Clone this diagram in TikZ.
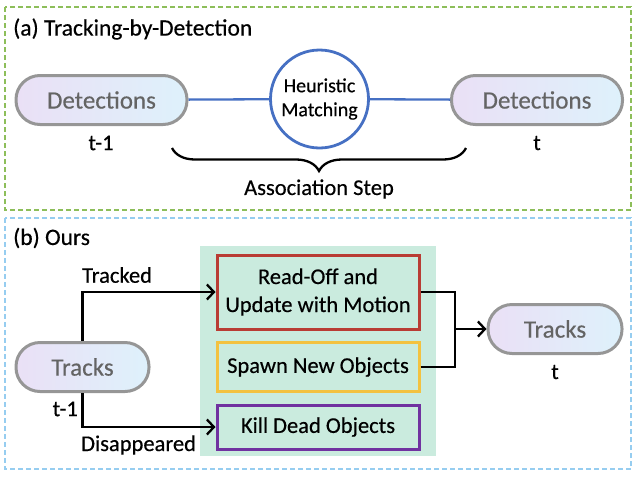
\documentclass[tikz,border=0pt]{standalone}
\usepackage{fontspec}
\setmainfont{Carlito}[FakeBold=0.4]
\usepackage{tikz}
\usetikzlibrary{arrows.meta, decorations.pathreplacing}

\definecolor{frameA}{RGB}{141,190,90}
\definecolor{frameB}{RGB}{150,205,240}
\definecolor{pillL}{RGB}{234,224,246}
\definecolor{pillR}{RGB}{222,241,251}
\definecolor{pillD}{RGB}{150,150,150}
\definecolor{pillT}{RGB}{100,100,100}
\definecolor{matchB}{RGB}{70,112,195}
\definecolor{stageBg}{RGB}{202,235,222}
\definecolor{readR}{RGB}{185,60,52}
\definecolor{spawnY}{RGB}{243,194,64}
\definecolor{killP}{RGB}{112,50,160}

\tikzset{
  pill/.style={draw=pillD, line width=3pt, rounded corners=24pt, left color=pillL, right color=pillR,
    text=pillT, font=\fontsize{25}{28}\selectfont, minimum height=49pt},
  stagebox/.style={draw, line width=3pt, minimum width=202pt, align=center,
    font=\fontsize{22.5}{28}\selectfont},
  lbl/.style={font=\fontsize{22.5}{26}\selectfont, inner sep=0pt},
  ttl/.style={font=\fontsize{23.5}{26}\selectfont, inner sep=0pt},
  conn/.style={line width=2.3pt},
  arr/.style={line width=2.3pt, -{Straight Barb[length=7pt,width=15pt,line width=2.3pt]}}
}

\begin{document}
\begin{tikzpicture}[x=1pt,y=1pt,yscale=-1,xscale=1]
\useasboundingbox (0,0) rectangle (644,480);

%Frame: Tracking-by-Detection
\draw [color=frameA, line width=2.2pt, dash pattern={on 5pt off 3pt}] (5,7) rectangle (631,210);
\node [ttl, anchor=west] (titleA) at (13,29) {(a) Tracking-by-Detection};

%Detections and matching
\node [pill, minimum width=171pt] (detPrev) at (101.5,100) {Detections};
\node [pill, minimum width=171pt] (detCur) at (537,100) {Detections};
\node [circle, draw=matchB, line width=2.8pt, minimum size=98pt, align=center, inner sep=0pt,
  font=\fontsize{20}{24}\selectfont] (match) at (319.5,99) {Heuristic\\Matching};
\draw [color=matchB, line width=2.3pt] (detPrev) -- (match);
\draw [color=matchB, line width=2.3pt] (match) -- (detCur);
\node [lbl] (tPrevA) at (101,143) {t-1};
\node [lbl] (tCurA) at (537,143) {t};

%Brace: Association Step
\draw [line width=2.3pt, decorate, decoration={brace, mirror, amplitude=23pt}] (172,148) -- (466,148);
\node [lbl] (assoc) at (319,189) {Association Step};

%Frame: Ours
\draw [color=frameB, line width=2.2pt, dash pattern={on 5pt off 3pt}] (5,218) rectangle (631,469);
\node [ttl, anchor=west] (titleB) at (13,238) {(b) Ours};

%Stage background
\fill [stageBg] (200,246) rectangle (436,456);

%Stage boxes
\node [stagebox, draw=readR, minimum height=74pt] (readOff) at (318,292) {Read-Off and\\Update with Motion};
\node [stagebox, draw=spawnY, minimum height=49pt] (spawn) at (318,367) {Spawn New Objects};
\node [stagebox, draw=killP, minimum height=44pt] (kill) at (318,427) {Kill Dead Objects};

%Tracks
\node [pill, minimum width=133pt] (tracksPrev) at (82.5,367) {Tracks};
\node [pill, minimum width=134pt] (tracksCur) at (555,329) {Tracks};
\node [lbl, anchor=east] (tPrevB) at (78,409) {t-1};
\node [lbl] (tCurB) at (555,372) {t};

%Connectors
\draw [arr] (tracksPrev.north) |- (readOff.west);
\draw [arr] (tracksPrev.south) |- (kill.west);
\node [lbl, anchor=west] (tracked) at (82,275) {Tracked};
\node [lbl, anchor=west] (disap) at (81,445) {Disappeared};
\coordinate (merge) at (455,329);
\draw [conn] (readOff.east) -| (merge);
\draw [conn] (spawn.east) -| (merge);
\draw [arr] (merge) -- (tracksCur.west);

\end{tikzpicture}
\end{document}
